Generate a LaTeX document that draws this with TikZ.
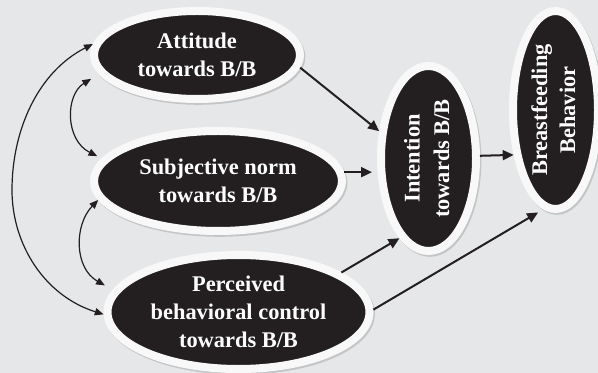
\documentclass[tikz,border=0pt]{standalone}
\usepackage{fontspec}
\setmainfont{Liberation Serif}
\usetikzlibrary{arrows.meta,shapes.geometric}
\definecolor{bg}{HTML}{E6E7E9}
\definecolor{ink}{HTML}{231F20}
\definecolor{rim}{HTML}{F8F8F8}
\definecolor{shade}{HTML}{C4C5C7}
\begin{document}
\begin{tikzpicture}[x=0.5pt,y=-0.5pt,
  oval/.style={ellipse, fill=ink, draw=rim, line width=4pt, inner sep=0pt,
    text=white, font=\fontsize{11.2pt}{14pt}\selectfont\bfseries, align=center,
    preaction={draw=shade, line width=4pt, transform canvas={shift={(0.7pt,-0.9pt)}}}},
  arr/.style={draw=ink, line width=1pt, -{Triangle[length=5.5pt,width=5pt]}},
  biarr/.style={draw=ink, line width=0.6pt,
    {Triangle[length=4.4pt,width=3.6pt]}-{Triangle[length=4.4pt,width=3.6pt]}}]
\fill[bg] (0,0) rectangle (598,373);
\useasboundingbox (0,0) rectangle (598,373);
% nodes
\node[oval, minimum width=103pt, minimum height=44pt] (att) at (197,55) {Attitude\\towards B/B};
\node[oval, minimum width=124pt, minimum height=50pt] (sub) at (218,181) {Subjective norm\\towards B/B};
\node[oval, minimum width=131pt, minimum height=57pt] (per) at (238.5,312) {Perceived\\behavioral control\\towards B/B};
\node[oval, minimum width=47.5pt, minimum height=92.5pt] (int) at (428.5,158.5)
  {\rotatebox{90}{\renewcommand\arraystretch{1.05}\begin{tabular}{@{}c@{}}Intention\\towards B/B\end{tabular}}};
\node[oval, minimum width=42.5pt, minimum height=99pt] (bf) at (555.5,110)
  {\rotatebox{90}{\begin{tabular}{@{}c@{}}Breastfeeding\\Behavior\end{tabular}}};
% straight arrows
\draw[arr] (att.-7) -- (int.151);
\draw[arr, shorten >=2.5pt] (sub.4) -- (sub.4 -| int.west);
\draw[arr] (int.3) -- (bf.227.6);
\draw[arr] (per.21) -- (int.250.7);
\draw[arr, shorten >=3pt] (per.1) -- (bf.263);
% curved two-headed arrows
\coordinate (lm) at (12,190);
\draw[biarr, shorten <=4.5pt, shorten >=2.5pt] (att.191.7) .. controls (65,95) and (65,140) .. (sub.169.3);
\draw[biarr, shorten >=4.5pt] (sub.189) .. controls (74,225) and (74,268) .. (per.170.4);
\draw[biarr] (att.174) .. controls (38,72) and (12,130) .. (lm) .. controls (12,245) and (45,296) .. (per.181);
\end{tikzpicture}
\end{document}
